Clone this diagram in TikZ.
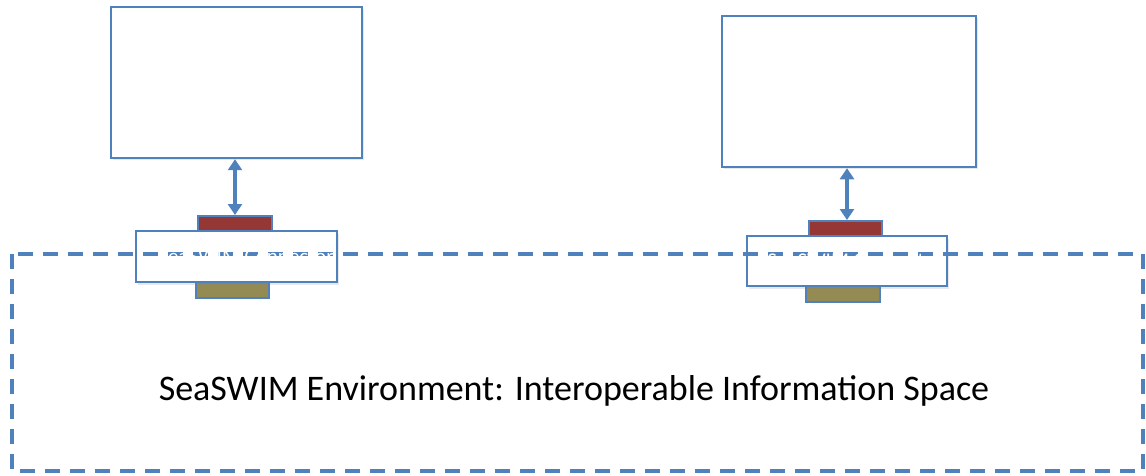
\documentclass[tikz,border=0pt]{standalone}
\usepackage{fontspec}
\setmainfont{Carlito}
\usetikzlibrary{arrows.meta,shadows}
\definecolor{edgeblue}{HTML}{4F81BD}
\definecolor{portred}{HTML}{953735}
\definecolor{portolive}{HTML}{948A54}
\tikzset{
  softshadow/.style={drop shadow={opacity=0.18,shadow xshift=2pt,shadow yshift=-2.5pt}},
  sysbox/.style={draw=edgeblue,line width=2.5pt,fill=white,softshadow},
  connbox/.style={draw=edgeblue,line width=2.5pt,fill=white,softshadow},
  redport/.style={draw=edgeblue,line width=2pt,fill=portred},
  oliveport/.style={draw=edgeblue,line width=2pt,fill=portolive},
  link/.style={edgeblue,line width=4pt,{Triangle[width=14pt,length=11pt]}-{Triangle[width=14pt,length=11pt]}},
  envline/.style={edgeblue,line width=4.5pt,dash pattern=on 15pt off 10pt},
}
\begin{document}
\begin{tikzpicture}[x=1pt,y=-1pt]
\useasboundingbox (0,0) rectangle (1146,476);
% application systems
\node[sysbox,minimum width=251pt,minimum height=151pt] (sysL) at (236.5,82.5) {};
\node[sysbox,minimum width=254pt,minimum height=151pt] (sysR) at (849,91.5) {};
% connectors with their two ports
\node[redport,minimum width=74pt,minimum height=15pt] (redL) at (235,223.5) {};
\node[oliveport,minimum width=73pt,minimum height=16pt] (oliveL) at (232.5,290) {};
\node[connbox,minimum width=201pt,minimum height=51pt] (connL) at (236.5,256.5) {};
\node[redport,minimum width=73pt,minimum height=15pt] (redR) at (845.5,228.5) {};
\node[oliveport,minimum width=74pt,minimum height=16pt] (oliveR) at (843,294) {};
\node[connbox,minimum width=200pt,minimum height=50pt] (connR) at (847,261) {};
% links between systems and connectors
\draw[link] (redL.north) -- (redL.north |- sysL.south);
\draw[link] ([xshift=1.5pt]redR.north) -- ([xshift=1.5pt]redR.north |- sysR.south);
% shared environment
\draw[envline] (12,254) rectangle (1143,471);
\node[font=\fontsize{36}{40}\selectfont,text=black] (env) at (574,391)
  {SeaSWIM Environment: Interoperable Information Space};
% connector labels
\node[font=\fontsize{21}{24}\selectfont,text=white] (labL) at (246,257) {SeaSWIM Connector};
\node[font=\fontsize{21}{24}\selectfont,text=white] (labR) at (855,261) {SeaSWIM Connector};
\end{tikzpicture}
\end{document}
